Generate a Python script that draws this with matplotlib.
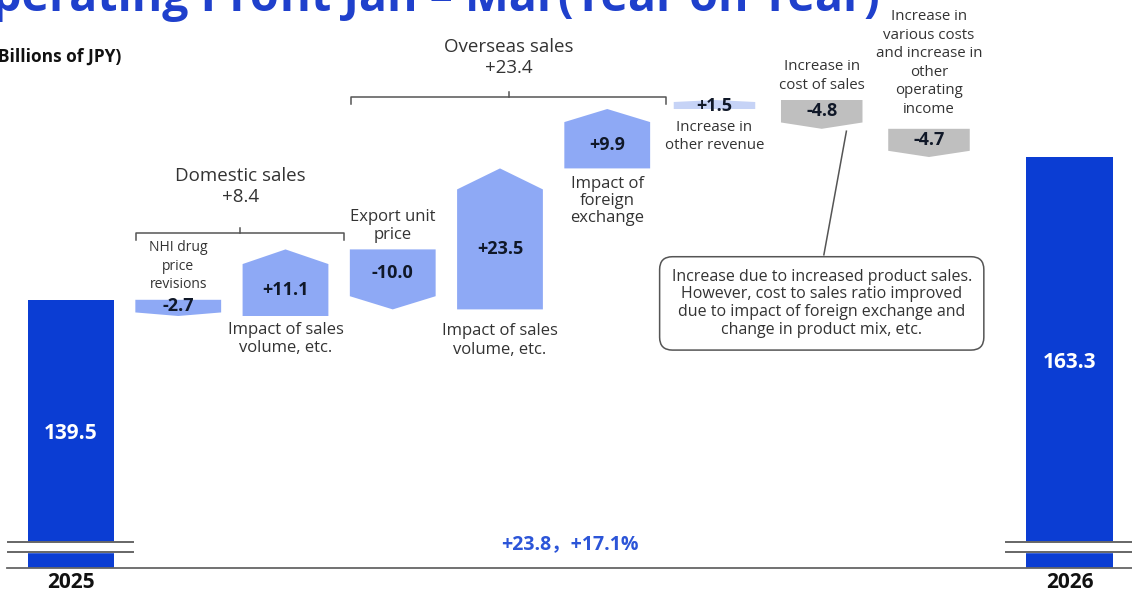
import matplotlib.pyplot as plt
import numpy as np
from matplotlib.patches import Polygon, Rectangle

plt.rcParams["font.family"] = ["Open Sans", "Noto Sans CJK JP", "DejaVu Sans"]

# ---- data (billions of JPY) ----
start_label, end_label = "2025", "2026"
start_value = 139.5
end_value = 163.3

step_names = [
    "NHI drug\nprice\nrevisions",
    "Impact of sales\nvolume, etc.",
    "Export unit\nprice",
    "Impact of sales\nvolume, etc.",
    "Impact of\nforeign\nexchange",
    "Increase in\nother revenue",
    "Increase in\ncost of sales",
    "Increase in\nvarious costs\nand increase in\nother\noperating\nincome",
]
step_values = [-2.7, 11.1, -10.0, 23.5, 9.9, 1.5, -4.8, -4.7]
step_kinds = ["sales", "sales", "sales", "sales", "sales", "revenue", "cost", "cost"]

group_names = ["Domestic sales", "Overseas sales"]
group_totals = [8.4, 23.4]
group_members = [(0, 1), (2, 4)]

change_abs = 23.8
change_pct = 17.1

cost_note = ("Increase due to increased product sales.\n"
             "However, cost to sales ratio improved\n"
             "due to impact of foreign exchange and\n"
             "change in product mix, etc.")

# ---- style ----
DARK = "#0b3dd3"
COLORS = {"sales": "#8ea9f5", "revenue": "#c6d3f6", "cost": "#bfbfbf"}
TITLE_BLUE = "#1f40cc"
TEXT = "#333333"
FLOOR = 94.8  # where the broken axis starts

fig = plt.figure(figsize=(11.32, 5.96), dpi=100)
ax = fig.add_axes([0, 0, 1, 1])
ax.set_xlim(-0.662, 9.893)
ax.set_ylim(90.13, 189.47)
ax.axis("off")

n = len(step_values)
x_steps = np.arange(1, n + 1)
x_end = n + 1.31
x_tot = [0, x_end]

# totals
ax.bar(x_tot, [start_value - FLOOR, end_value - FLOOR], bottom=FLOOR,
       width=0.81, color=DARK, zorder=2)
for x, v in zip(x_tot, [start_value, end_value]):
    ax.text(x, (v + FLOOR) / 2, f"{v:.1f}", color="white", ha="center",
            va="center", fontsize=15, fontweight="bold", zorder=4)
for x, lab in zip(x_tot, [start_label, end_label]):
    ax.text(x, 92.3, lab, ha="center", va="center", fontsize=15,
            fontweight="bold", color="#111111")
    # axis break
    ax.add_patch(Rectangle((x - 0.45, 97.5), 0.9, 1.6, color="white", zorder=3))
    for yb in (97.5, 99.1):
        ax.plot([x - 0.59, x + 0.58], [yb, yb], color="#666666", lw=1.4, zorder=4)

ax.plot([-0.6, 9.893], [FLOOR, FLOOR], color="#666666", lw=1.3, zorder=3)

# steps
ends = start_value + np.cumsum(step_values)
starts = ends - np.array(step_values)
name_side = ["above", "below", "above", "below", "below", "below", "above", "above"]
name_gap = [1.3, 1.0, 1.0, 2.3, 1.2, 1.8, 1.2, 2.0]
name_size = [10, 12, 12, 12, 12, 10.8, 10.8, 10.8]
name_spacing = [1.3, 1.2, 1.2, 1.2, 1.12, 1.32, 1.32, 1.32]

for i, (x, s, e, v, kind) in enumerate(zip(x_steps, starts, ends, step_values, step_kinds)):
    w = 0.76 if kind != "sales" else 0.8
    sign = np.sign(v)
    tip = min(0.22 * abs(v), 3.5)
    pts = [(x - w / 2, s), (x + w / 2, s), (x + w / 2, e - sign * tip),
           (x, e), (x - w / 2, e - sign * tip)]
    ax.add_patch(Polygon(pts, closed=True, color=COLORS[kind], lw=0, zorder=2))
    ax.text(x, (s + e - sign * tip) / 2, f"{v:+.1f}", ha="center", va="center",
            fontsize=13, fontweight="bold", color="#101828", zorder=4)
    kw = dict(ha="center", fontsize=name_size[i], color=TEXT,
              linespacing=name_spacing[i])
    if name_side[i] == "above":
        ax.text(x, max(s, e) + name_gap[i], step_names[i], va="bottom", **kw)
    else:
        ax.text(x, min(s, e) - name_gap[i], step_names[i], va="top", **kw)

# group brackets
bracket_y = [150.6, 173.3]
label_gap = [4.5, 3.4]
for name, tot, (a, b), by, gap in zip(group_names, group_totals, group_members,
                                      bracket_y, label_gap):
    x0 = x_steps[a] - 0.39
    x1 = x_steps[b] + 0.55
    xm = (x0 + x1) / 2
    ax.plot([x0, x0, x1, x1], [by - 1.2, by, by, by - 1.2], color="#555555", lw=1.1)
    ax.plot([xm, xm], [by, by + 0.9], color="#555555", lw=1.1)
    ax.text(xm, by + gap, f"{name}\n{tot:+.1f}", ha="center", va="bottom",
            fontsize=13.5, color=TEXT, linespacing=1.2)

# cost-of-sales note
ax.plot([7.23, 7.02], [167.6, 147.0], color="#555555", lw=1.1)
ax.text(7.0, 138.9, cost_note, ha="center", va="center", fontsize=11.5,
        color=TEXT, linespacing=1.15,
        bbox=dict(boxstyle="round,pad=0.75,rounding_size=0.8", fc="white",
                  ec="#555555", lw=1.1))

# overall change
ax.text(4.65, 98.8, f"+{change_abs:.1f}，+{change_pct:.1f}%", ha="center",
        va="center", fontsize=14, fontweight="bold", color="#2c55d8")

# headings
fig.text(880 / 1132, 1 - 11 / 596, "Operating Profit Jan – Mar(Year on Year)",
         ha="right", va="baseline", fontsize=33.5, fontweight="bold", color=TITLE_BLUE)
fig.text(-8 / 1132, 1 - 62 / 596, "(Billions of JPY)", ha="left", va="baseline",
         fontsize=12.5, fontweight="bold", color="#111111")

fig.savefig("out.png", dpi=100)
